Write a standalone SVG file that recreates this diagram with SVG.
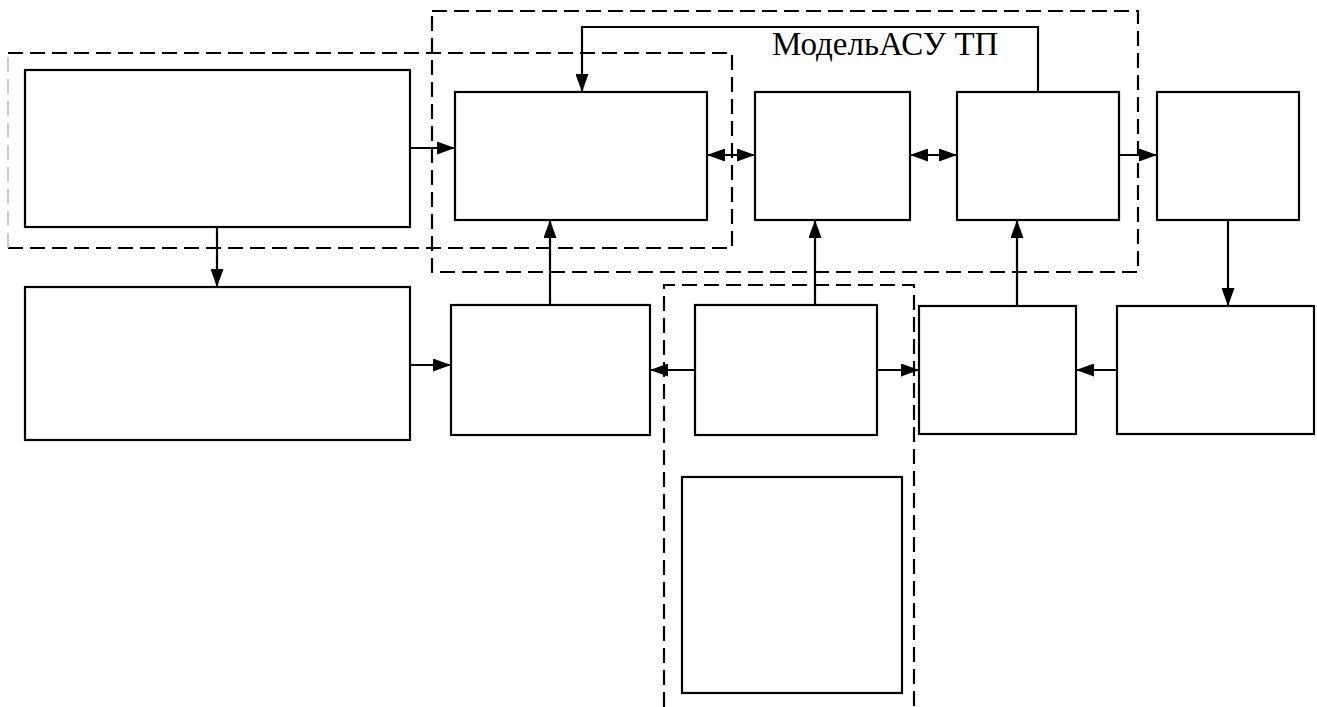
<svg xmlns="http://www.w3.org/2000/svg" width="1317" height="707" viewBox="0 0 1317 707">
<defs>
<style>
.node{fill:#fff;stroke:#000;stroke-width:2.2}
.dash{fill:none;stroke:#000;stroke-width:2.2;stroke-dasharray:15 7}
.conn{fill:none;stroke:#000;stroke-width:2.2}
</style>
<marker id="ah" viewBox="0 0 18 13" refX="18" refY="6.5" markerWidth="18" markerHeight="13" markerUnits="userSpaceOnUse" orient="auto">
<path d="M0,0 L18,6.5 L0,13 Z" fill="#000"/>
</marker>
<marker id="as" viewBox="0 0 18 13" refX="0" refY="6.5" markerWidth="18" markerHeight="13" markerUnits="userSpaceOnUse" orient="auto">
<path d="M18,0 L0,6.5 L18,13 Z" fill="#000"/>
</marker>
</defs>
<rect width="1317" height="707" fill="#fff"/>
<g id="groups">
<path class="dash" d="M8,53 L732,53 L732,248 L8,248"/>
<path d="M8,248 L8,53" fill="none" stroke="#bbb" stroke-width="1.5" stroke-dasharray="15 7"/>
<rect class="dash" x="432" y="11" width="706" height="261"/>
<path class="dash" d="M664,707 L664,285 L914,285 L914,707"/>
</g>
<g id="n1"><rect class="node" x="25" y="70" width="385" height="157"/></g>
<g id="n2"><rect class="node" x="25" y="287" width="385" height="153"/></g>
<g id="n3"><rect class="node" x="455" y="92" width="252" height="128"/></g>
<g id="n4"><rect class="node" x="755" y="92" width="155" height="128"/></g>
<g id="n5"><rect class="node" x="957" y="92" width="162" height="128"/></g>
<g id="n6"><rect class="node" x="1157" y="92" width="142" height="128"/></g>
<g id="n7"><rect class="node" x="451" y="305" width="199" height="130"/></g>
<g id="n8"><rect class="node" x="695" y="305" width="182" height="130"/></g>
<g id="n9"><rect class="node" x="919" y="306" width="157" height="128"/></g>
<g id="n10"><rect class="node" x="1117" y="306" width="197" height="128"/></g>
<g id="n11"><rect class="node" x="682" y="477" width="220" height="216"/></g>
<g id="label"><text x="772" y="55" font-family="'Liberation Serif', 'Times New Roman', serif" font-size="33" fill="#000">МодельАСУ ТП</text></g>
<g id="connectors">
<path class="conn" d="M410,148 L455,148" marker-end="url(#ah)"/>
<path class="conn" d="M217,227 L217,287" marker-end="url(#ah)"/>
<path class="conn" d="M410,365 L451,365" marker-end="url(#ah)"/>
<path class="conn" d="M550,305 L550,220" marker-end="url(#ah)"/>
<path class="conn" d="M707,155 L755,155" marker-start="url(#as)" marker-end="url(#ah)"/>
<path class="conn" d="M910,155 L957,155" marker-start="url(#as)" marker-end="url(#ah)"/>
<path class="conn" d="M1119,155 L1157,155" marker-end="url(#ah)"/>
<path class="conn" d="M1038,92 L1038,27 L582,27 L582,92" marker-end="url(#ah)"/>
<path class="conn" d="M1228,220 L1228,306" marker-end="url(#ah)"/>
<path class="conn" d="M1117,370 L1076,370" marker-end="url(#ah)"/>
<path class="conn" d="M1017,306 L1017,220" marker-end="url(#ah)"/>
<path class="conn" d="M815,305 L815,220" marker-end="url(#ah)"/>
<path class="conn" d="M695,370 L650,370" marker-end="url(#ah)"/>
<path class="conn" d="M877,370 L919,370" marker-end="url(#ah)"/>
</g>
</svg>
